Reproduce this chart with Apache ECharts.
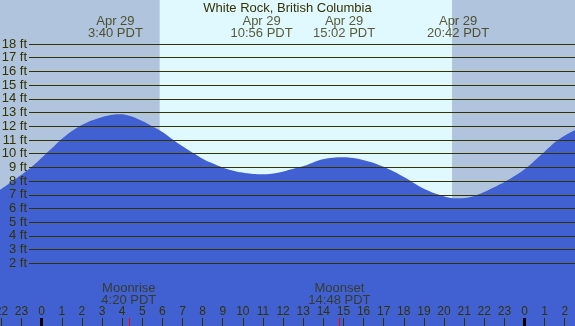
<!DOCTYPE html>
<html>
<head>
<meta charset="utf-8">
<script src="https://cdn.jsdelivr.net/npm/echarts@6/dist/echarts.min.js"></script>
<style>html,body{margin:0;padding:0;background:#e0f8ff;}#c{width:575px;height:326px;}</style>
</head>
<body>
<div id="c"></div>
<script>
const titleText = 'White Rock, British Columbia';
const tideHours = [-2.07, -0.58, 0.41, 1.24, 2.07, 2.90, 3.64, 3.89, 4.39, 4.89, 5.38, 5.88, 6.38, 6.87, 7.37, 7.87, 8.37, 9.26, 10.10, 10.95, 11.74, 12.59, 13.19, 13.98, 14.98, 15.97, 16.96, 17.96, 18.95, 19.90, 20.69, 21.53, 22.38, 23.17, 24.02, 24.86, 25.66, 26.51];
const tideFeet = [7.35, 8.93, 10.26, 11.36, 12.14, 12.62, 12.85, 12.87, 12.74, 12.45, 12.09, 11.68, 11.18, 10.66, 10.18, 9.74, 9.36, 8.85, 8.58, 8.49, 8.61, 8.93, 9.17, 9.58, 9.73, 9.53, 9.05, 8.32, 7.47, 6.93, 6.74, 6.93, 7.47, 8.07, 8.88, 9.95, 10.99, 11.72];
const extremeDate = 'Apr 29';
const extremeTimes = ['3:40', '10:56', '15:02', '20:42'];
const moonNames = ['Moonrise', 'Moonset'];
const moonTimes = ['4:20', '14:48'];
const sunTimes = ['5:52', '20:24'];
const hourTicks = [-2,-1,0,1,2,3,4,5,6,7,8,9,10,11,12,13,14,15,16,17,18,19,20,21,22,23,24,25,26];
const midnightTicks = [0, 24];
const xMin = -2.07, xMax = 26.51;

const toH = s => { const [h, m] = s.split(':').map(Number); return h + m / 60; };
const txt = '#333300';
const night = '#b0c4de', day = '#e0f8ff', water = '#4161d3';

const chart = echarts.init(document.getElementById('c'));
const sunH = sunTimes.map(toH);
const tickAxis = (vals, color, width, z) => ({
  type: 'value', gridIndex: 0, min: xMin, max: xMax, position: 'bottom', z: z,
  axisLine: { show: false }, splitLine: { show: false }, axisLabel: { show: false },
  axisTick: { show: true, inside: true, length: 8, customValues: vals, lineStyle: { color: color, width: width } }
});
chart.setOption({
  animation: false,
  backgroundColor: day,
  textStyle: { fontFamily: 'Liberation Sans, Arial, sans-serif' },
  title: { text: titleText, left: 'center', top: 2, padding: 0,
    textStyle: { fontSize: 13, fontWeight: 'normal', color: txt, fontFamily: 'Liberation Sans' } },
  grid: [
    { left: 0, right: 0, top: 0, bottom: 0, outerBoundsMode: 'none', containLabel: false },
    { left: 29, right: 0, top: 44, bottom: 62.7, outerBoundsMode: 'none', containLabel: false }
  ],
  xAxis: [
    { type: 'value', gridIndex: 0, min: xMin, max: xMax, position: 'bottom', z: 10,
      axisLine: { show: false }, splitLine: { show: false }, axisTick: { show: false },
      axisLabel: { show: true, inside: true, margin: 8, customValues: hourTicks, fontSize: 12, color: txt,
        hideOverlap: false, showMinLabel: true, showMaxLabel: true,
        fontFamily: 'Liberation Sans', formatter: v => String(((Math.round(v) % 24) + 24) % 24) } },
    tickAxis(hourTicks, txt, 1, 10),
    tickAxis(midnightTicks, '#000', 3, 11),
    tickAxis(moonTimes.map(toH), '#ff0000', 1, 11),
    { type: 'value', gridIndex: 1, min: xMin, max: xMax, show: false }
  ],
  yAxis: [
    { type: 'value', gridIndex: 0, min: -2.575, max: 21.2, show: false },
    { type: 'value', gridIndex: 1, min: 2, max: 18, interval: 1, z: 10,
      axisLine: { show: false }, axisTick: { show: false },
      splitLine: { show: true, lineStyle: { color: txt, width: 1 } },
      axisLabel: { margin: 2, fontSize: 13, color: txt, fontFamily: 'Liberation Sans', formatter: v => v + ' ft' } }
  ],
  series: [
    { type: 'line', xAxisIndex: 0, yAxisIndex: 0, data: [], z: 1, silent: true,
      markArea: { silent: true, itemStyle: { color: night }, data: [
        [{ xAxis: xMin }, { xAxis: sunH[0] }],
        [{ xAxis: sunH[1] }, { xAxis: xMax }]
      ] } },
    { type: 'line', xAxisIndex: 0, yAxisIndex: 0, z: 2, smooth: 0.4, symbol: 'none',
      lineStyle: { width: 0 }, areaStyle: { color: water, opacity: 1, origin: 'start' },
      data: tideHours.map((h, i) => [h, tideFeet[i]]) },
    { type: 'scatter', xAxisIndex: 0, yAxisIndex: 0, z: 12, symbolSize: 1, itemStyle: { color: 'rgba(0,0,0,0)' },
      label: { show: true, position: 'inside', fontSize: 13, lineHeight: 12, color: txt, fontFamily: 'Liberation Sans',
        formatter: p => p.data[2] },
      data: extremeTimes.map(t => [toH(t), 19.21, extremeDate + '\n' + t + ' PDT']) },
    { type: 'scatter', xAxisIndex: 0, yAxisIndex: 0, z: 12, symbolSize: 1, itemStyle: { color: 'rgba(0,0,0,0)' },
      label: { show: true, position: 'inside', fontSize: 13, lineHeight: 12, color: txt, fontFamily: 'Liberation Sans',
        formatter: p => p.data[2] },
      data: moonTimes.map((t, i) => [toH(t), -0.30, moonNames[i] + '\n' + t + ' PDT']) }
  ]
});
</script>
</body>
</html>
